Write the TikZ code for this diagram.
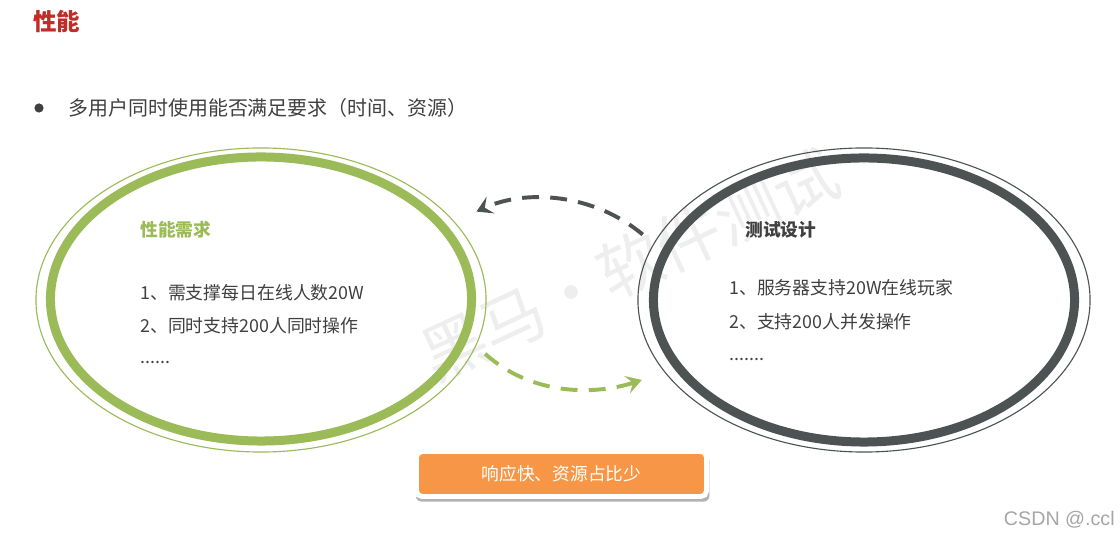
\documentclass[tikz,border=0pt]{standalone}
\usepackage{fontspec}
\setmainfont{Noto Sans CJK SC}
\newfontfamily\marksans{Liberation Sans}
\usetikzlibrary{arrows.meta,positioning,shapes.geometric,shadows}
\definecolor{PerfGreen}{RGB}{155,187,89}
\definecolor{PerfDark}{RGB}{77,83,82}
\definecolor{PerfText}{RGB}{64,64,64}
\definecolor{PerfRed}{RGB}{190,45,40}
\definecolor{PerfOrange}{RGB}{247,150,70}
\definecolor{PerfMark}{RGB}{238,238,238}
\tikzset{
  perf/heading/.style={
    text=PerfRed,
    inner sep=0pt,
    font=\fontsize{16.7pt}{20pt}\selectfont\bfseries
  },
  perf/line/.style={
    text=PerfText,
    inner sep=0pt,
    font=\fontsize{14.2pt}{17pt}\selectfont
  },
  perf/dot/.style={circle, fill=PerfText, inner sep=0pt, minimum size=0.23cm},
  perf/ring/.style={ellipse, line width=0.8pt, inner sep=0pt, fill=none},
  perf/band/.style={ellipse, line width=6.4pt, inner sep=0pt, fill=none},
  perf/title/.style={
    inner sep=0pt,
    font=\fontsize{12.6pt}{15pt}\selectfont\bfseries
  },
  perf/item/.style={
    text=PerfText,
    inner sep=0pt,
    font=\fontsize{12.7pt}{15pt}\selectfont
  },
  perf/result/.style={
    draw=white,
    line width=3.5pt,
    rounded corners=4pt,
    fill=PerfOrange,
    text=white,
    align=center,
    minimum width=7.25cm,
    minimum height=1.125cm,
    drop shadow={shadow scale=1.012, shadow xshift=0.8pt, shadow yshift=-3.4pt, opacity=0.5, fill=black!60},
    font=\fontsize{12.6pt}{15pt}\selectfont
  },
  perf/flow/.style={
    line width=2.8pt,
    dash pattern=on 12pt off 8pt,
    -{Stealth[length=11pt,width=13pt,inset=4.5pt]}
  },
  perf/watermark/.style={text=PerfMark, inner sep=0pt, font=\fontsize{46pt}{50pt}\selectfont},
  perf/credit/.style={text=black!35, inner sep=0pt, font=\marksans\fontsize{14pt}{16pt}\selectfont}
}

\begin{document}
\begin{tikzpicture}[x=0.025cm,y=0.025cm]
  \useasboundingbox[fill=white] (0,0) rectangle (1120,539);
  \node[perf/watermark,rotate=25] (mark) at (630,274) {黑马·软件测试};

  \node[perf/heading,anchor=west] (head) at (33,517) {性能};
  \node[perf/dot] (dot) at (39,431) {};
  \node[perf/line,anchor=west] (intro) at (68,431) {多用户同时使用能否满足要求（时间、资源）};

  \node[perf/ring,draw=PerfGreen,minimum width=11.25cm,minimum height=7.6cm] (req) at (261,239) {};
  \node[perf/band,draw=PerfGreen,minimum width=10.525cm,minimum height=7.1cm] (reqband) at (261,240) {};
  \node[perf/ring,draw=PerfDark,minimum width=11.3cm,minimum height=7.6cm] (design) at (864,239) {};
  \node[perf/band,draw=PerfDark,minimum width=10.525cm,minimum height=7.1cm] (designband) at (864,239) {};

  \node[perf/title,text=PerfGreen,anchor=west] (reqtitle) at (140,309) {性能需求};
  \node[perf/item,anchor=west] (req1) at (140,246) {1、需支撑每日在线人数20W};
  \node[perf/item,anchor=west] (req2) at (140,213) {2、同时支持200人同时操作};
  \node[perf/item,anchor=base west] (req3) at (140,175) {......};

  \node[perf/title,text=PerfText,anchor=west] (designtitle) at (745,309) {测试设计};
  \node[perf/item,anchor=west] (design1) at (729,251) {1、服务器支持20W在线玩家};
  \node[perf/item,anchor=west] (design2) at (729,217) {2、支持200人并发操作};
  \node[perf/item,anchor=base west] (design3) at (729,178) {.......};

  \draw[perf/flow,draw=PerfDark,shorten <=0.35cm,shorten >=0.6cm]
    (design.165) to[out=140,in=25] (req.22);
  \draw[perf/flow,draw=PerfGreen,shorten <=0.3cm,shorten >=0.6cm]
    (req.-12) to[out=-42,in=198] (design.200);

  \node[perf/result] (result) at (561.5,65) {响应快、资源占比少};
  \node[perf/credit,anchor=east] (credit) at (1115,19) {CSDN @.ccl};
\end{tikzpicture}
\end{document}
